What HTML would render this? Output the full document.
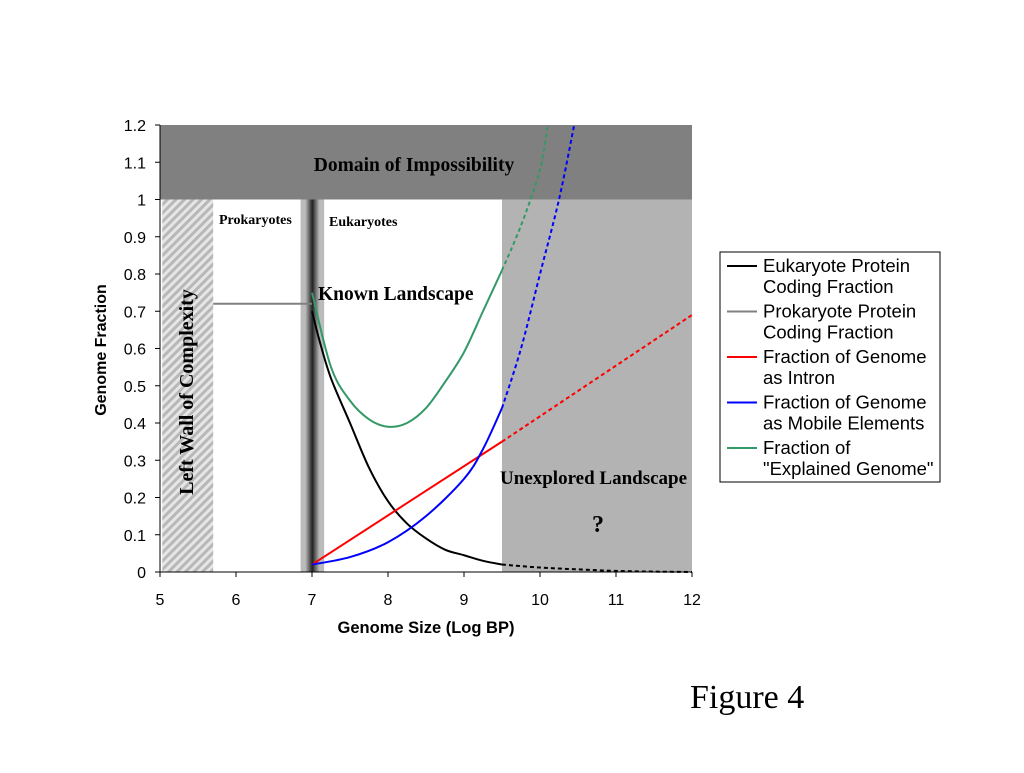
<!DOCTYPE html>
<html><head><meta charset="utf-8"><style>
body{margin:0;background:#fff;width:1024px;height:768px;overflow:hidden}
svg text{font-family:"Liberation Sans",sans-serif}
.serif{font-family:"Liberation Serif",serif!important;font-weight:bold}
</style></head><body>
<svg id="chart" width="1024" height="768">
<defs>
<pattern id="hatch" width="6" height="6" patternUnits="userSpaceOnUse" patternTransform="rotate(45)">
<rect width="6" height="6" fill="#e6e6e6"/><rect width="3" height="6" fill="#b8b8b8"/></pattern>
<linearGradient id="band" x1="0" x2="1"><stop offset="0" stop-color="#bbb"/><stop offset="0.2" stop-color="#bbb"/><stop offset="0.5" stop-color="#222"/><stop offset="0.8" stop-color="#bbb"/><stop offset="1" stop-color="#bbb"/></linearGradient>
</defs>
<g id="bg"></g><g id="marks"></g><g id="axes"></g>
<text x="690" y="708" font-size="34" style="font-family:'Liberation Serif',serif">Figure 4</text>
</svg>
<script>
const xTicks=[5,6,7,8,9,10,11,12];
const yTicks=[0,0.1,0.2,0.3,0.4,0.5,0.6,0.7,0.8,0.9,1,1.1,1.2];
const eukX=[7,7.1,7.25,7.5,7.75,8,8.25,8.5,8.75,9,9.25,9.5];
const eukY=[0.70,0.62,0.52,0.40,0.28,0.19,0.13,0.09,0.06,0.045,0.03,0.02];
const eukDX=[9.5,10,10.5,11,11.5,12];
const eukDY=[0.02,0.012,0.007,0.003,0.001,0];
const intronX=[7,9.5];const intronY=[0.02,0.35];
const intronDX=[9.5,12];const intronDY=[0.35,0.69];
const mobX=[7,7.5,8,8.5,9,9.25,9.5];const mobY=[0.02,0.04,0.08,0.15,0.25,0.33,0.44];
const mobDX=[9.5,9.75,10,10.25,10.45];const mobDY=[0.44,0.6,0.8,1.0,1.2];
const explX=[7,7.25,7.5,7.75,8,8.25,8.5,8.75,9,9.25,9.5];
const explY=[0.75,0.55,0.46,0.41,0.39,0.40,0.44,0.51,0.59,0.70,0.81];
const explDX=[9.5,9.75,10,10.1];const explDY=[0.81,0.93,1.08,1.2];
const prokX=[5.7,7];const prokY=[0.72,0.72];
const X=v=>160+76*(v-5), Y=v=>572-372.5*v;
const NS='http://www.w3.org/2000/svg';
function mk(g,t,a,txt){const e=document.createElementNS(NS,t);for(const k in a)e.setAttribute(k,a[k]);if(txt!==undefined)e.textContent=txt;document.getElementById(g).appendChild(e);return e;}
let e;
e=mk('bg','rect',{x:X(5),y:Y(1.2),width:X(12)-X(5),height:Y(1)-Y(1.2),fill:'#808080'});

e=mk('bg','rect',{x:X(5.03),y:Y(1),width:X(5.7)-X(5.03),height:Y(0)-Y(1),fill:'url(#hatch)'});

e=mk('bg','rect',{x:X(9.5),y:Y(1),width:X(12)-X(9.5),height:Y(0)-Y(1),fill:'#b3b3b3'});

e=mk('bg','rect',{x:X(6.85),y:Y(1),width:X(7.16)-X(6.85),height:Y(0)-Y(1),fill:'url(#band)'});

function line(xs,ys,c,dash,name){
const P=xs.map((x,i)=>[X(x),Y(ys[i])]);
let d='M'+P[0][0]+' '+P[0][1];
for(let i=0;i<P.length-1;i++){const p0=P[Math.max(i-1,0)],p1=P[i],p2=P[i+1],p3=P[Math.min(i+2,P.length-1)];
d+=` C${p1[0]+(p2[0]-p0[0])/6} ${p1[1]+(p2[1]-p0[1])/6} ${p2[0]-(p3[0]-p1[0])/6} ${p2[1]-(p3[1]-p1[1])/6} ${p2[0]} ${p2[1]}`;}
const p=mk('marks','path',{d:d,fill:'none',stroke:c,'stroke-width':2,'stroke-dasharray':dash||'none'});

}
line(prokX,prokY,'#808080','','prokaryote-line');
line(eukX,eukY,'#000','','eukaryote-line');line(eukDX,eukDY,'#000','4 3','eukaryote-projection');
line(intronX,intronY,'#f00','','intron-line');line(intronDX,intronDY,'#f00','4 3','intron-projection');
line(mobX,mobY,'#00f','','mobile-line');line(mobDX,mobDY,'#00f','4 3','mobile-projection');
line(explX,explY,'#339966','','explained-line');line(explDX,explDY,'#339966','4 3','explained-projection');
e=mk('axes','path',{d:`M${X(5)} ${Y(1.2)} V${Y(0)} H${X(12)}`,fill:'none',stroke:'#000','stroke-width':1});

yTicks.forEach(v=>{mk('axes','line',{x1:X(5)-5,x2:X(5),y1:Y(v),y2:Y(v),stroke:'#000'});
e=mk('axes','text',{x:X(5)-14,y:Y(v)+6,'font-size':16,'text-anchor':'end'},String(v));
});
xTicks.forEach(v=>{mk('axes','line',{x1:X(v),x2:X(v),y1:Y(0),y2:Y(0)+5,stroke:'#000'});
e=mk('axes','text',{x:X(v),y:Y(0)+33,'font-size':16,'text-anchor':'middle'},String(v));
});
function txt(x,y,s,size,cls,name,extra){const t=mk('axes','text',Object.assign({x:x,y:y,'font-size':size,class:cls||''},extra||{}),s);
return t;}
txt(426,633,'Genome Size (Log BP)',16.5,'','x-axis-title',{'font-weight':'bold','text-anchor':'middle'});
txt(106,350,'Genome Fraction',16,'','y-axis-title',{'font-weight':'bold','text-anchor':'middle',transform:'rotate(-90 106 350)'});
txt(414,171,'Domain of Impossibility',19.5,'serif','domain-label',{'text-anchor':'middle'});
txt(219,224,'Prokaryotes',14,'serif','prokaryotes-label');
txt(329,226,'Eukaryotes',14,'serif','eukaryotes-label');
txt(318,300,'Known Landscape',19.5,'serif','known-landscape-label');
txt(500,484,'Unexplored Landscape',19,'serif','unexplored-label');
txt(598,532,'?',24,'serif','question-mark',{'text-anchor':'middle'});
txt(193,392,'Left Wall of Complexity',20,'serif','left-wall-label',{'text-anchor':'middle',transform:'rotate(-90 193 392)'});
e=mk('axes','rect',{x:720,y:252,width:220,height:230,fill:'#fff',stroke:'#000'});

const legNames=[['Eukaryote Protein','Coding Fraction'],['Prokaryote Protein','Coding Fraction'],['Fraction of Genome','as Intron'],['Fraction of Genome','as Mobile Elements'],['Fraction of','"Explained Genome"']];
const legColors=['#000','#808080','#f00','#00f','#339966'];
legNames.forEach((n,i)=>{const y=266+i*45.5;
e=mk('axes','line',{x1:727,x2:757,y1:y,y2:y,stroke:legColors[i],'stroke-width':2});

txt(763,y+6,n[0],18.5,'','legend-entry');txt(763,y+27,n[1],18.5,'','legend-entry');});
</script>
</body></html>
